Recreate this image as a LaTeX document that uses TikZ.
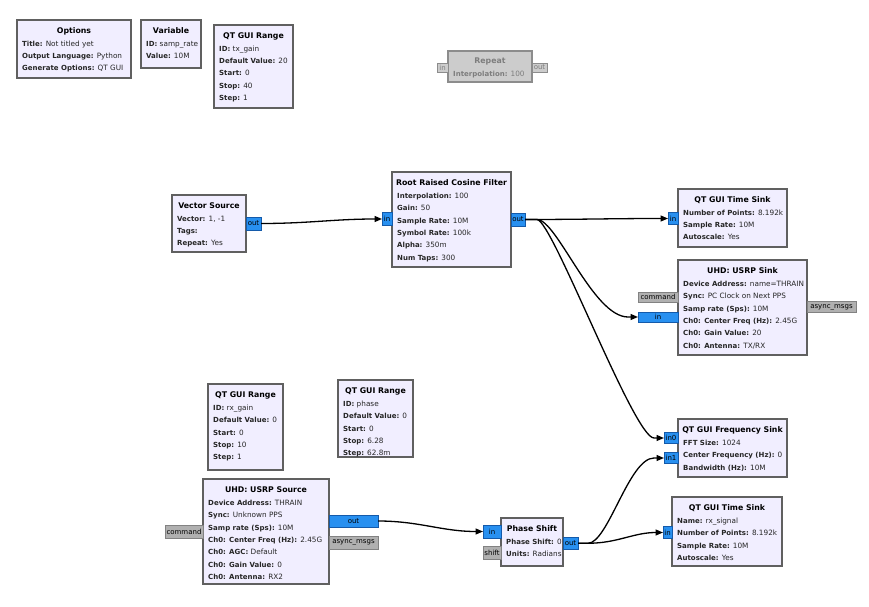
\documentclass[tikz,border=0pt]{standalone}
\usepackage{fontspec}
\setmainfont{DejaVu Sans}
\usetikzlibrary{arrows.meta}
\definecolor{blkfill}{RGB}{241,238,255}
\definecolor{blkdraw}{RGB}{96,96,96}
\definecolor{portfill}{RGB}{40,144,240}
\definecolor{portdraw}{RGB}{20,90,170}
\definecolor{msgfill}{RGB}{176,176,176}
\definecolor{msgdraw}{RGB}{130,130,130}
\definecolor{disfill}{RGB}{204,204,204}
\definecolor{disdraw}{RGB}{140,140,140}
\definecolor{distext}{RGB}{125,125,125}
\newcommand\lb[1]{{\fontsize{7bp}{12.4bp}\selectfont\bfseries #1}}
\tikzset{
 blk/.style={draw=blkdraw, fill=blkfill, line width=1.3bp, inner sep=0, outer sep=0},
 ttl/.style={font=\fontsize{7.8bp}{9bp}\selectfont\bfseries, inner sep=0, text height=5.7bp, text depth=0bp, anchor=center},
 lns/.style={font=\fontsize{7.3bp}{12.4bp}\selectfont, text=black!85, align=left, inner sep=0, anchor=north west},
 prt/.style={draw=portdraw, fill=portfill, line width=0.6bp, inner sep=0, outer sep=0, font=\fontsize{7bp}{8bp}\selectfont, anchor=north west},
 msg/.style={prt, draw=msgdraw, fill=msgfill},
 dis/.style={prt, draw=disdraw, fill=disfill, text=distext},
 conn/.style={line width=1.3bp, -{Triangle[length=7.5bp,width=6bp]}},
}
\newcommand\grcblk[7]{%
 \node[blk, minimum width=#4bp, minimum height=#5bp, anchor=north west] (#1) at (#2,#3) {};
 \node[ttl] (#1-t) at ([yshift=-11bp]#1.north) {#6};
 \node[lns] (#1-l) at ([xshift=5bp,yshift=-20bp]#1.north west) {\rule{0pt}{6bp}#7};
}
\newcommand\grcport[7][prt]{%
 \node[#1, minimum width=#5bp, minimum height=#6bp] (#2) at (#3,#4) {#7};
}
\begin{document}
\begin{tikzpicture}[x=1bp,y=-1bp]
\fill[white] (0,0) rectangle (869,607);
\useasboundingbox (0,0) rectangle (869,607);

% top row
\grcblk{opt}{17}{20}{114}{58}{Options}{\lb{Title:} Not titled yet\\\lb{Output Language:} Python\\\lb{Generate Options:} QT GUI}
\grcblk{var}{141}{20}{60}{48}{Variable}{\lb{ID:} samp\_rate\\\lb{Value:} 10M}
\grcblk{txg}{214}{25}{79}{83}{QT GUI Range}{\lb{ID:} tx\_gain\\\lb{Default Value:} 20\\\lb{Start:} 0\\\lb{Stop:} 40\\\lb{Step:} 1}

% disabled Repeat
\node[blk, draw=disdraw, fill=disfill, minimum width=84bp, minimum height=31bp, anchor=north west] (rep) at (448,51) {};
\node[ttl, text=distext] (rep-t) at ([yshift=-10bp]rep.north) {Repeat};
\node[lns, text=distext] (rep-l) at ([xshift=5bp,yshift=-19.8bp]rep.north west) {\rule{0pt}{6bp}\lb{Interpolation:} 100};
\grcport[dis]{rep-in}{437}{63}{11}{9}{in}
\grcport[dis]{rep-out}{532}{63}{15}{9}{out}

% TX chain
\grcblk{vs}{172}{195}{74}{57}{Vector Source}{\lb{Vector:} 1, -1\\\lb{Tags:}\\\lb{Repeat:} Yes}
\grcport{vs-out}{246}{217}{15}{13}{out}

\grcblk{rrc}{392}{172}{119}{95}{Root Raised Cosine Filter}{\lb{Interpolation:} 100\\\lb{Gain:} 50\\\lb{Sample Rate:} 10M\\\lb{Symbol Rate:} 100k\\\lb{Alpha:} 350m\\\lb{Num Taps:} 300}
\grcport{rrc-in}{382}{212.5}{10}{13}{in}
\grcport{rrc-out}{511}{213}{14}{13}{out}

\grcblk{ts1}{678}{189}{109}{58}{QT GUI Time Sink}{\lb{Number of Points:} 8.192k\\\lb{Sample Rate:} 10M\\\lb{Autoscale:} Yes}
\grcport{ts1-in}{668}{212.5}{10}{12}{in}

\grcblk{usnk}{678}{260}{129}{95}{UHD: USRP Sink}{\lb{Device Address:} name=THRAIN\\\lb{Sync:} PC Clock on Next PPS\\\lb{Samp rate (Sps):} 10M\\\lb{Ch0: Center Freq (Hz):} 2.45G\\\lb{Ch0: Gain Value:} 20\\\lb{Ch0: Antenna:} TX/RX}
\grcport[msg]{usnk-cmd}{638}{292}{40}{10}{command}
\grcport{usnk-in}{638}{312}{40}{10}{in}
\grcport[msg]{usnk-async}{807}{301.5}{49}{11}{async\_msgs}

% ranges
\grcblk{rxg}{208}{384}{75}{86}{QT GUI Range}{\lb{ID:} rx\_gain\\\lb{Default Value:} 0\\\lb{Start:} 0\\\lb{Stop:} 10\\\lb{Step:} 1}
\grcblk{ph}{338}{380}{75}{77}{QT GUI Range}{\lb{ID:} phase\\\lb{Default Value:} 0\\\lb{Start:} 0\\\lb{Stop:} 6.28\\\lb{Step:} 62.8m}

% RX chain
\grcblk{usrc}{203}{479}{126}{105}{UHD: USRP Source}{\lb{Device Address:} THRAIN\\\lb{Sync:} Unknown PPS\\\lb{Samp rate (Sps):} 10M\\\lb{Ch0: Center Freq (Hz):} 2.45G\\\lb{Ch0: AGC:} Default\\\lb{Ch0: Gain Value:} 0\\\lb{Ch0: Antenna:} RX2}
\grcport[msg]{usrc-cmd}{165}{525}{38}{13}{command}
\grcport{usrc-out}{329}{515}{49}{12}{out}
\grcport[msg]{usrc-async}{329}{536}{49}{13}{async\_msgs}

\grcblk{ps}{501}{518}{62}{48}{Phase Shift}{\lb{Phase Shift:} 0\\\lb{Units:} Radians}
\grcport{ps-in}{483}{525}{18}{13}{in}
\grcport[msg]{ps-shift}{483}{546}{18}{13}{shift}
\grcport{ps-out}{563}{537}{15}{12.5}{out}

\grcblk{fs}{678}{419}{109}{58}{QT GUI Frequency Sink}{\lb{FFT Size:} 1024\\\lb{Center Frequency (Hz):} 0\\\lb{Bandwidth (Hz):} 10M}
\grcport{fs-in0}{664}{432.5}{14}{11}{in0}
\grcport{fs-in1}{664}{452.5}{14}{11}{in1}

\grcblk{ts2}{672}{497}{110}{69}{QT GUI Time Sink}{\lb{Name:} rx\_signal\\\lb{Number of Points:} 8.192k\\\lb{Sample Rate:} 10M\\\lb{Autoscale:} Yes}
\grcport{ts2-in}{663}{526.5}{9}{12}{in}

% connections
\draw[conn] (vs-out.east) to[out=0,in=180] (rrc-in.west);
\draw[conn] (rrc-out.east) to[out=0,in=180] (ts1-in.west);
\draw[conn] (rrc-out.east) -- ++(12,0) .. controls +(20,0) and ([xshift=-45bp]usnk-in.west) .. ([xshift=-10bp]usnk-in.west) -- (usnk-in.west);
\draw[conn] (rrc-out.east) -- ++(12,0) .. controls +(15,0) and ([xshift=-30bp]fs-in0.west) .. ([xshift=-10bp]fs-in0.west) -- (fs-in0.west);
\draw[conn] (usrc-out.east) to[out=0,in=180] (ps-in.west);
\draw[conn] (ps-out.east) -- ++(10,0) .. controls +(20,0) and ([xshift=-35bp]fs-in1.west) .. ([xshift=-10bp]fs-in1.west) -- (fs-in1.west);
\draw[conn] (ps-out.east) -- ++(10,0) to[out=0,in=180] (ts2-in.west);
\end{tikzpicture}
\end{document}
